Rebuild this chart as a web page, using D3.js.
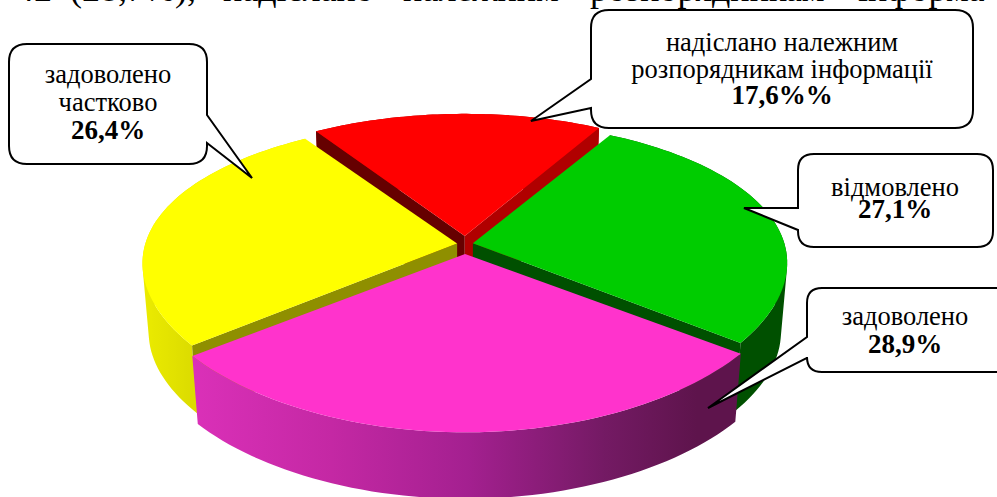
<!DOCTYPE html>
<html>
<head>
<meta charset="utf-8">
<script src="https://cdn.jsdelivr.net/npm/d3@7"></script>
<style>
  html, body { margin: 0; padding: 0; background: #fff; overflow: hidden; }
  svg { display: block; }
  text { font-family: "Liberation Serif", "Times New Roman", serif; fill: #000; }
</style>
</head>
<body>
<svg id="chart" width="997" height="497"></svg>
<script>
// values
var categories = ["надіслано належним розпорядникам інформації", "відмовлено", "задоволено", "задоволено частково"];
var values = [17.6, 27.1, 28.9, 26.4];
var valueLabels = ["17,6%%", "27,1%", "28,9%", "26,4%"];
var topColors = ["#ff0000", "#00cc00", "#ff33cc", "#ffff00"];
var wallColors = ["#b00000", "#005000", "#5e144c", "#dcdc00"];
var cutColors = ["#660000", "#005000", "#5e144c", "#8f8f00"];

// the line of body text cut off by the top edge of the picture
var pageWords = ["42", "(28,7%),", "надіслано", "належним", "розпорядникам", "інформа"];
var pageWordX = [16, 70, 223, 403, 590, 858];

// callout boxes: box edges, tail tip and where the tail leaves the box
var callouts = [
    { x0: 591, x1: 973, y0: 10, y1: 128, r: 18, side: "left", b0: 79, b1: 108, tip: [531, 121], cx: 782, lines: ["надіслано належним", "розпорядникам інформації"], ys: [51, 78, 104] },
    { x0: 798, x1: 993, y0: 154, y1: 247, r: 16, side: "left", b0: 208, b1: 230, tip: [744, 208], cx: 895, lines: ["відмовлено"], ys: [196, 218] },
    { x0: 807, x1: 1010, y0: 288, y1: 372, r: 15, side: "left", b0: 337, b1: 358, tip: [708, 408], cx: 905, lines: ["задоволено"], ys: [325, 353] },
    { x0: 9, x1: 207, y0: 44, y1: 164, r: 18, side: "right", b0: 115, b1: 143, tip: [252, 178], cx: 108, lines: ["задоволено", "частково"], ys: [83, 111, 139] }
];

var cx = 465, cy = 245;
var rx = 313, rxGrow = 43;  // the pie widens towards the viewer
var ry = 145, perspY = 0.187;
var depth = 70;
var bottomScale = 0.98;
var explodeX = 8, explodeY = 9;
var nearGrow = 0.025;       // a slice pulled forward draws a bit bigger

var svg = d3.select("#chart");

var pie = d3.pie().sort(null)
    .startAngle(-33.4 * Math.PI / 180)
    .endAngle((360 - 33.4) * Math.PI / 180);
var slices = pie(values);
slices.forEach(function (d, i) {
    var mid = (d.startAngle + d.endAngle) / 2;
    d.ox = explodeX * Math.sin(mid);
    d.oy = -explodeY * Math.cos(mid);
    d.grow = 1 - nearGrow * Math.cos(mid);
});

function project(d, theta, bottom) {
    var u = Math.sin(theta), v = -Math.cos(theta);
    var k = bottom ? bottomScale : 1;
    return [cx + d.ox + u * (rx + rxGrow * v) * k * d.grow,
            cy + d.oy + ry * k * v / (1 - perspY * v) + (bottom ? depth : 0)];
}

function apex(d, bottom) {
    return [cx + d.ox, cy + d.oy + (bottom ? depth : 0)];
}

function arcPoints(d, bottom) {
    return d3.range(0, 61).map(function (j) {
        return project(d, d.startAngle + (d.endAngle - d.startAngle) * j / 60, bottom);
    });
}

var line = d3.line();

function topFace(d) {
    return line([apex(d, false)].concat(arcPoints(d, false))) + "Z";
}
// the rim is a strip of small quads, all wound the same way, so its silhouette stays tangent
function outerWall(d) {
    var top = arcPoints(d, false), bot = arcPoints(d, true);
    return d3.range(0, top.length - 1).map(function (j) {
        var quad = [top[j], top[j + 1], bot[j + 1], bot[j]];
        if (d3.polygonArea(quad) < 0) quad.reverse();
        return line(quad) + "Z";
    }).join("");
}
function cutWall(d, theta) {
    return line([apex(d, false), project(d, theta, false), project(d, theta, true), apex(d, true)]) + "Z";
}

// shading round the front of the pie
var defs = svg.append("defs");
var magentaGrad = defs.append("linearGradient").attr("id", "magentaWall")
    .attr("gradientUnits", "userSpaceOnUse")
    .attr("x1", 195).attr("x2", 740).attr("y1", 0).attr("y2", 0);
[[0, "#da30b8"], [0.25, "#c428a4"], [0.5, "#a42090"], [0.75, "#741a64"], [0.92, "#5e144c"], [1, "#5e144c"]].forEach(function (s) {
    magentaGrad.append("stop").attr("offset", s[0]).attr("stop-color", s[1]);
});
var yellowGrad = defs.append("linearGradient").attr("id", "yellowWall")
    .attr("gradientUnits", "userSpaceOnUse")
    .attr("x1", 141).attr("x2", 192).attr("y1", 0).attr("y2", 0);
yellowGrad.append("stop").attr("offset", 0).attr("stop-color", "#ecec00");
yellowGrad.append("stop").attr("offset", 1).attr("stop-color", "#dcdc00");

// paint from the back of the pie to the front
var chart = svg.append("g");
[0, 1, 3, 2].forEach(function (i) {
    var d = slices[i];
    var g = chart.append("g").attr("class", "slice");
    var wallFill = i === 2 ? "url(#magentaWall)" : (i === 3 ? "url(#yellowWall)" : wallColors[i]);
    g.append("path").attr("d", outerWall(d)).attr("fill", wallFill);
    if (i === 0) {
        g.append("path").attr("d", cutWall(d, d.startAngle)).attr("fill", cutColors[0]);
        g.append("path").attr("d", cutWall(d, d.endAngle)).attr("fill", wallColors[0]);
    } else if (i === 1) {
        g.append("path").attr("d", cutWall(d, d.endAngle)).attr("fill", cutColors[1]);
    } else if (i === 3) {
        g.append("path").attr("d", cutWall(d, d.startAngle)).attr("fill", cutColors[3]);
    }
    g.append("path").attr("d", topFace(d)).attr("fill", topColors[i]);
});

function bubblePath(c) {
    var p = d3.path();
    p.moveTo(c.x0 + c.r, c.y0);
    p.lineTo(c.x1 - c.r, c.y0);
    p.quadraticCurveTo(c.x1, c.y0, c.x1, c.y0 + c.r);
    if (c.side === "right") {
        p.lineTo(c.x1, c.b0);
        p.lineTo(c.tip[0], c.tip[1]);
        p.lineTo(c.x1, c.b1);
    }
    p.lineTo(c.x1, c.y1 - c.r);
    p.quadraticCurveTo(c.x1, c.y1, c.x1 - c.r, c.y1);
    p.lineTo(c.x0 + c.r, c.y1);
    p.quadraticCurveTo(c.x0, c.y1, c.x0, c.y1 - c.r);
    if (c.side === "left") {
        p.lineTo(c.x0, c.b1);
        p.lineTo(c.tip[0], c.tip[1]);
        p.lineTo(c.x0, c.b0);
    }
    p.lineTo(c.x0, c.y0 + c.r);
    p.quadraticCurveTo(c.x0, c.y0, c.x0 + c.r, c.y0);
    p.closePath();
    return p.toString();
}

var labels = svg.append("g");
callouts.forEach(function (c, i) {
    var g = labels.append("g");
    g.append("path").attr("d", bubblePath(c))
        .attr("fill", "#fff").attr("stroke", "#000").attr("stroke-width", 2)
        .attr("stroke-linejoin", "miter");
    c.lines.forEach(function (t, j) {
        g.append("text").attr("x", c.cx).attr("y", c.ys[j])
            .attr("text-anchor", "middle").attr("font-size", 26.5).text(t);
    });
    g.append("text").attr("x", c.cx).attr("y", c.ys[c.ys.length - 1])
        .attr("text-anchor", "middle").attr("font-size", 27).attr("font-weight", "bold")
        .text(valueLabels[i]);
});

svg.append("g").selectAll("text").data(pageWords).enter().append("text")
    .attr("x", function (d, i) { return pageWordX[i]; })
    .attr("y", 0.5)
    .attr("font-size", 36)
    .text(function (d) { return d; });
</script>
</body>
</html>
